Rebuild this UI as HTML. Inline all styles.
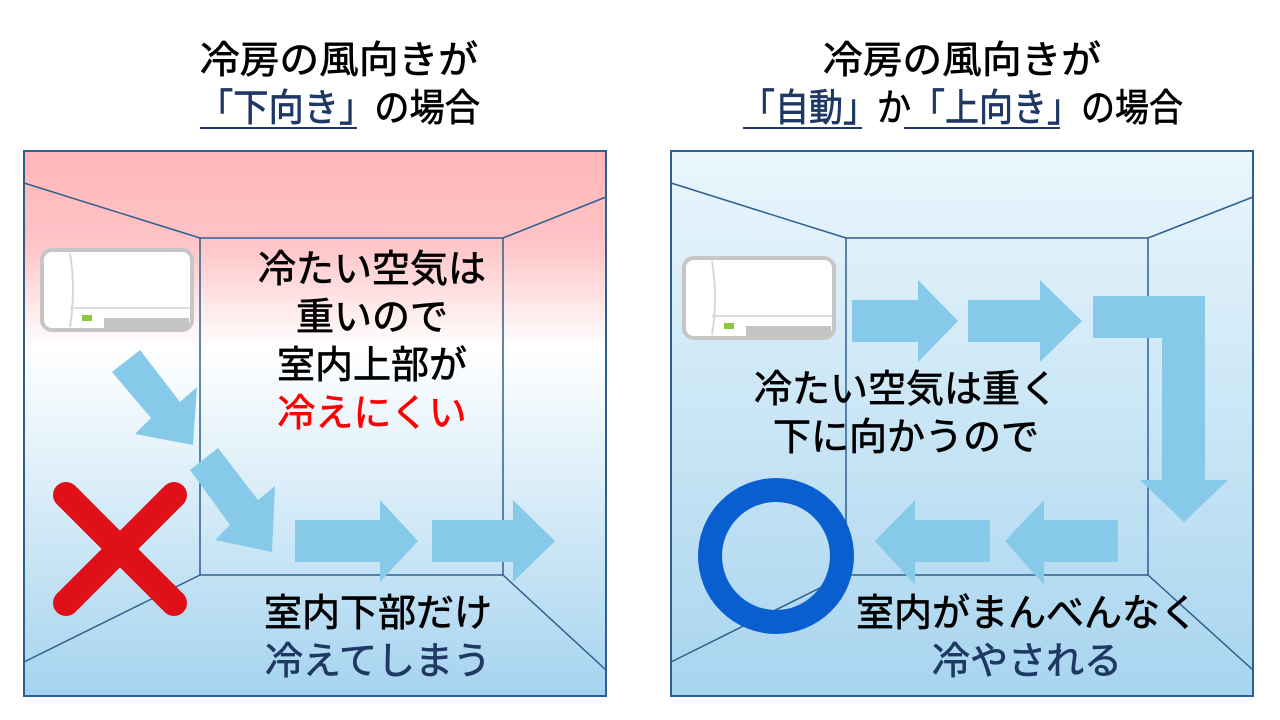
<!DOCTYPE html>
<html><head><meta charset="utf-8"><style>
html,body{margin:0;padding:0;background:#fff;}
svg{display:block;}
text{font-family:"Liberation Sans","Noto Sans CJK JP",sans-serif;font-size:38px;stroke:currentColor;stroke-width:0.7px;}
</style></head><body>
<svg width="1280" height="720" viewBox="0 0 1280 720" xmlns="http://www.w3.org/2000/svg">
<defs>
<linearGradient id="gl" x1="0" y1="0" x2="0" y2="1">
<stop offset="0" stop-color="#ffb6b8"/>
<stop offset="0.17" stop-color="#ffc4c6"/>
<stop offset="0.36" stop-color="#ffffff"/>
<stop offset="1" stop-color="#a5d3ef"/>
</linearGradient>
<linearGradient id="gr" x1="0" y1="0" x2="0" y2="1">
<stop offset="0" stop-color="#eaf6fc"/>
<stop offset="1" stop-color="#a8d5ef"/>
</linearGradient>
<g id="ac">
<rect x="0" y="0" width="150" height="80" rx="10" fill="#fff" stroke="#c6c6c6" stroke-width="4"/>
<path d="M28 3 Q34 40 28 77" stroke="#d8d8d8" stroke-width="2" fill="none"/>
<line x1="28" y1="58" x2="148" y2="58" stroke="#dcdcdc" stroke-width="2"/>
<rect x="40" y="65" width="10" height="6" fill="#8cc63f"/>
<rect x="62" y="68" width="85" height="10" fill="#c4c4c4"/>
</g>
</defs>
<g color="#000" fill="#000">
<text x="200" y="73" textLength="278" lengthAdjust="spacingAndGlyphs">冷房の風向きが</text>
<text x="198" y="121" textLength="282" lengthAdjust="spacingAndGlyphs"><tspan fill="#1f3864" color="#1f3864">「下向き」</tspan>の場合</text>
<line x1="200" y1="128" x2="357" y2="128" stroke="#1f3864" stroke-width="2"/>
<text x="823" y="73" textLength="278" lengthAdjust="spacingAndGlyphs">冷房の風向きが</text>
<text x="741" y="121" textLength="442" lengthAdjust="spacingAndGlyphs"><tspan fill="#1f3864" color="#1f3864">「自動」</tspan>か<tspan fill="#1f3864" color="#1f3864">「上向き」</tspan>の場合</text>
<line x1="743" y1="128" x2="862" y2="128" stroke="#1f3864" stroke-width="2"/>
<line x1="904" y1="128" x2="1060" y2="128" stroke="#1f3864" stroke-width="2"/>
</g>

<!-- left box -->
<rect x="24" y="151" width="582" height="545" fill="url(#gl)" stroke="#2f5f8f" stroke-width="2"/>
<g stroke="#2f5f8f" stroke-width="1.5" fill="none">
<rect x="200" y="238" width="303" height="337"/>
<line x1="24" y1="183" x2="200" y2="238"/><line x1="606" y1="197" x2="503" y2="238"/>
<line x1="24" y1="662" x2="200" y2="575"/><line x1="606" y1="670" x2="503" y2="575"/>
</g>
<use href="#ac" x="42" y="250"/>
<g fill="#86c9e8">
<polygon points="112,372 140,350 180,402 197,387 193,445 135,434 151,418"/>
<polygon points="190,470 218,448 258,500 275,486 272,552 215,540 230,525"/>
<polygon points="295,520 380,520 380,500 418,541 380,582 380,562 295,562"/>
<polygon points="432,520 513,520 513,500 555,541 513,582 513,562 432,562"/>
</g>
<g stroke="#e01019" stroke-width="26" stroke-linecap="round">
<line x1="66" y1="495" x2="174" y2="603"/><line x1="174" y1="495" x2="66" y2="603"/>
</g>
<g color="#000">
<text x="372" y="282" text-anchor="middle">冷たい空気は</text>
<text x="372" y="330" text-anchor="middle">重いので</text>
<text x="372" y="378" text-anchor="middle">室内上部が</text>
<text x="372" y="426" text-anchor="middle" fill="#ff0000" color="#ff0000">冷えにくい</text>
<text x="378" y="626" text-anchor="middle">室内下部だけ</text>
<text x="378" y="674" text-anchor="middle" fill="#1f3864" color="#1f3864">冷えてしまう</text>
</g>

<!-- right box -->
<rect x="671" y="151" width="582" height="545" fill="url(#gr)" stroke="#2f5f8f" stroke-width="2"/>
<g stroke="#2f5f8f" stroke-width="1.5" fill="none">
<rect x="846" y="238" width="302" height="337"/>
<line x1="671" y1="183" x2="846" y2="238"/><line x1="1253" y1="197" x2="1148" y2="238"/>
<line x1="671" y1="662" x2="846" y2="575"/><line x1="1253" y1="670" x2="1148" y2="575"/>
</g>
<use href="#ac" x="684" y="258"/>
<g fill="#86c9e8">
<polygon points="852,300 918,300 918,280 958,321 918,362 918,342 852,342"/>
<polygon points="968,300 1040,300 1040,280 1082,321 1040,362 1040,342 968,342"/>
<polygon points="1093,296 1205,296 1205,480 1228,480 1184,522 1140,480 1162,480 1162,338 1093,338"/>
<polygon points="990,520 915,520 915,500 875,541 915,585 915,562 990,562"/>
<polygon points="1118,520 1044,520 1044,500 1005,541 1044,585 1044,562 1118,562"/>
</g>
<circle cx="776" cy="556" r="66" fill="none" stroke="#0a5fd0" stroke-width="24"/>
<g color="#000">
<text x="906" y="402" text-anchor="middle">冷たい空気は重く</text>
<text x="906" y="450" text-anchor="middle">下に向かうので</text>
<text x="1027" y="626" text-anchor="middle">室内がまんべんなく</text>
<text x="1027" y="674" text-anchor="middle" fill="#1f3864" color="#1f3864">冷やされる</text>
</g>
</svg>
</body></html>
